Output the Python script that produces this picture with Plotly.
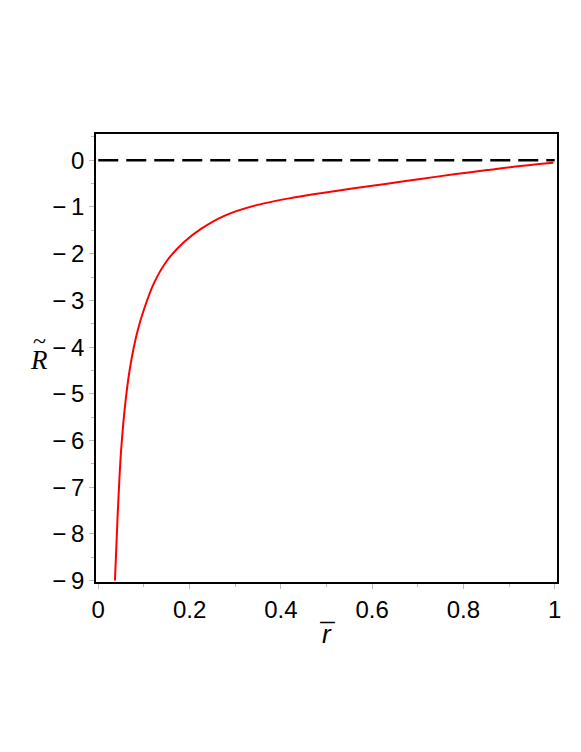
import plotly.graph_objects as go

# curve
r_bar = [0.0365, 0.0424, 0.0497, 0.0606, 0.0715, 0.0862, 0.1006, 0.1225, 0.152, 0.188,
         0.225, 0.276, 0.349, 0.421, 0.487, 0.560, 0.633, 0.706, 0.779, 0.852, 0.925, 0.997]
R_tilde = [-9.0, -7.6, -6.25, -5.08, -4.33, -3.65, -3.18, -2.62, -2.13, -1.75,
           -1.47, -1.19, -0.955, -0.81, -0.705, -0.60, -0.50, -0.40, -0.30, -0.21, -0.12, -0.05]

zero_x = [0, 1]
zero_y = [0, 0]

x_ticks = [0, 0.2, 0.4, 0.6, 0.8, 1]
x_labels = ["0", "0.2", "0.4", "0.6", "0.8", "1"]
y_ticks = [0, -1, -2, -3, -4, -5, -6, -7, -8, -9]
y_labels = ["0", "\u2212\u20091", "\u2212\u20092", "\u2212\u20093", "\u2212\u20094",
            "\u2212\u20095", "\u2212\u20096", "\u2212\u20097", "\u2212\u20098", "\u2212\u20099"]

fig = go.Figure()
fig.add_trace(go.Scatter(x=zero_x, y=zero_y, mode="lines",
                         line=dict(color="black", width=2.5, dash="20px,8px")))
fig.add_trace(go.Scatter(x=r_bar, y=R_tilde, mode="lines",
                         line=dict(color="red", width=2, shape="spline", smoothing=0.7)))

axis_common = dict(showline=True, linecolor="black", linewidth=1.5, mirror=True,
                   showgrid=False, zeroline=False, ticks="outside", ticklen=5,
                   tickcolor="#bbbbbb", tickwidth=1,
                   tickfont=dict(family="Liberation Sans, Arial", size=24, color="black"))

fig.update_xaxes(range=[-0.005, 1.005], tickvals=x_ticks, ticktext=x_labels,
                 minor=dict(dtick=0.1, ticks="outside", ticklen=3, tickcolor="#bbbbbb"),
                 **axis_common)
fig.update_yaxes(range=[-9.03, 0.563], tickvals=y_ticks, ticktext=y_labels,
                 minor=dict(dtick=0.5, ticks="outside", ticklen=3, tickcolor="#bbbbbb"),
                 **axis_common)

# axis titles: r with bar, R with tilde
sans = "Liberation Sans, Arial"
serif = "Liberation Serif, Times New Roman"
fig.add_annotation(xref="paper", yref="paper", x=0.5, y=0, showarrow=False,
                   xanchor="center", yanchor="middle",
                   text="<i>r</i>", font=dict(family=sans, size=26, color="black"),
                   yshift=-52)
fig.add_annotation(xref="paper", yref="paper", x=0.5, y=0, showarrow=False,
                   xanchor="center", yanchor="middle",
                   text="<b>\u2014</b>", font=dict(family=sans, size=15, color="black"),
                   yshift=-39, xshift=1)
fig.add_annotation(xref="paper", yref="paper", x=0, y=0.5, showarrow=False,
                   xanchor="center", yanchor="middle",
                   text="<i>R</i>", font=dict(family=serif, size=27, color="black"),
                   xshift=-57, yshift=-2)
fig.add_annotation(xref="paper", yref="paper", x=0, y=0.5, showarrow=False,
                   xanchor="center", yanchor="middle",
                   text="~", font=dict(family=serif, size=24, color="black"),
                   xshift=-57, yshift=17)

# page body adds an 8px offset, so margins are shifted to keep the frame in place
fig.update_layout(width=581, height=752, showlegend=False,
                  margin=dict(l=88, r=32, t=126, b=178),
                  plot_bgcolor="white", paper_bgcolor="white")

fig.write_html("out.html")
